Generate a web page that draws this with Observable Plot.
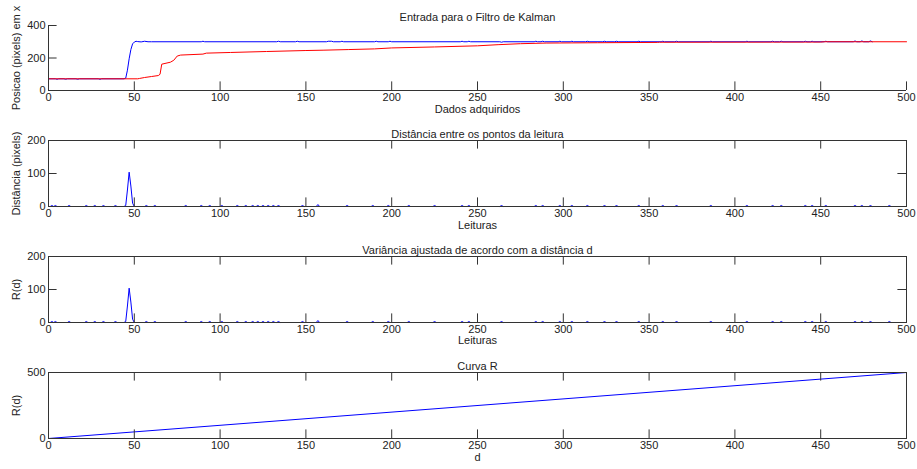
<!DOCTYPE html>
<html><head><meta charset="utf-8">
<script src="https://cdn.jsdelivr.net/npm/d3@7"></script>
<script src="https://cdn.jsdelivr.net/npm/@observablehq/plot@0.6"></script>
<style>
body{margin:0;background:#fff;}
#c svg{display:block;}
</style></head><body><div id="c"></div>
<script>
// ---------- data ----------
const xTicks = [0,50,100,150,200,250,300,350,400,450,500];
const yTicks1 = [0,200,400];
const yTicks2 = [0,100,200];
const yTicks3 = [0,100,200];
const yTicks4 = [0,500];

// Panel 1: input position (blue = measured, red = filtered)
const blueX = [0,4,5,6,9,10,11,16,17,18,29,30,31,44,45,46,47,48,49,50,51,52,54,56,58,60,89,90,91,133,134,135,144,145,146,162,163,165,166,170,171,172,190,191,192,198,199,200,240,241,242,244,245,246,263,264,265,283,284,285,287,288,289,297,298,299,304,305,306,313,314,315,323,324,325,330,331,332,343,344,345,357,358,359,365,366,367,385,386,387,406,407,408,421,422,423,426,427,428,440,441,442,444,445,446,452,453,454,469,470,471,473,474,475,478,479,480];
const blueY = [72,72,69,72,72,69,72,72,69,72,72,69,72,72,76,125,195,252,287,298,303,301,299,303,300,300,300,303,300,300,303,300,300,303,300,300,303,303,300,300,303,300,300,303,300,300,303,300,300,303,300,300,303,300,300,297,300,300,303,300,300,303,300,300,303,300,300,303,300,300,303,300,300,303,300,300,303,300,300,303,300,300,303,300,300,303,300,300,303,300,300,303,300,300,303,300,300,303,300,300,303,300,300,303,300,300,303,300,300,305,300,300,305,300,300,305,300];
const redX = [0,52,53,56,60,64,65,66,71,73,75,77,90,92,106,127,150,160,175,190,200,225,250,262,275,290,320,355,356,450,452,500];
const redY = [72,72,74,80,86,92,100,162,174,186,212,218,224,230,234,240,246,248,252,256,262,268,275,282,288,292,294,296,297,298,300,300];

// Panel 2 / 3: distance between readings (peak + small blips on a zero baseline)
const peakX = [44,45,46,47,48,49,50];
const peakY = [0,3,50,104,62,10,0];
const blipX = [2,4,12,22,27,32,39,57,62,80,89,94,101,110,115,119,122,125,128,131,134,148,157,174,189,198,210,225,241,245,264,284,288,298,305,314,324,331,344,358,366,386,407,422,427,441,445,453,470,474,479,490];
const blipY = [3,3,3,3,3,3,3,3,3,3,3,3,3,3,3,3,3,3,3,3,3,3,6,3,3,3,3,3,3,3,3,3,3,3,3,3,3,3,3,3,3,3,3,3,3,3,3,3,3,3,3,3];

// Panel 4: R curve
const curveD = [0,500];
const curveR = [0,500];

// ---------- build series ----------
function pts(xs, ys){ return xs.map((x,i)=>({x, y: ys[i]})); }
function spikeSeries(){
  const p = [{x:0,y:0}];
  const all = [];
  blipX.forEach((x,i)=>all.push([[x-1,0],[x,blipY[i]],[x+1,0]]));
  all.push(peakX.map((x,i)=>[x,peakY[i]]));
  all.sort((a,b)=>a[0][0]-b[0][0]);
  for (const g of all) for (const [x,y] of g) p.push({x,y});
  p.push({x:500,y:0});
  return p;
}
const distSeries = spikeSeries();

// ---------- layout ----------
const W = 917, ML = 48, MR = 11, TICK = 8.6;
const FONT = '"Liberation Sans", Arial, Helvetica, sans-serif';
const AX = "#333";

function panel({h, mt, mb, yDomain, yTicks, title, titleDy, xLabel, xLabelDy, yLabel, box, lines}) {
  const fh = h - mt - mb, fw = W - ML - MR;
  const marks = [];
  for (const l of lines) marks.push(Plot.line(l.data, {x:"x", y:"y", stroke:l.color, strokeWidth:1}));
  if (box) marks.push(Plot.frame({stroke: AX}));
  else {
    marks.push(Plot.ruleX([0], {stroke: AX}));
    marks.push(Plot.ruleY([yDomain[0]], {stroke: AX}));
  }
  marks.push(Plot.tickX(xTicks, {x: d=>d, insetTop: fh - TICK, stroke: AX}));
  marks.push(Plot.tickY(yTicks, {y: d=>d, insetRight: fw - TICK, stroke: AX}));
  if (box) {
    marks.push(Plot.tickX(xTicks, {x: d=>d, insetBottom: fh - TICK, stroke: AX}));
    marks.push(Plot.tickY(yTicks, {y: d=>d, insetLeft: fw - TICK, stroke: AX}));
  }
  marks.push(Plot.axisX(xTicks, {tickSize: 0, tickPadding: 3, label: null}));
  marks.push(Plot.axisY(yTicks, {tickSize: 0, tickPadding: 3, label: null}));
  marks.push(Plot.text([title], {frameAnchor: "top", dy: titleDy, text: d=>d}));
  marks.push(Plot.text([xLabel], {frameAnchor: "bottom", dy: xLabelDy, text: d=>d}));
  marks.push(Plot.text([yLabel], {frameAnchor: "left", dx: -32, rotate: -90, textAnchor: "middle", text: d=>d}));
  return Plot.plot({
    width: W, height: h, marginLeft: ML, marginRight: MR, marginTop: mt, marginBottom: mb,
    style: {fontFamily: FONT, fontSize: "11px", color: "#222", background: "#fff", overflow: "visible"},
    x: {domain: [0,500]},
    y: {domain: yDomain},
    marks
  });
}

const c = document.getElementById("c");
c.append(panel({h:118, mt:25, mb:28, yDomain:[0,400], yTicks:yTicks1,
  title:"Entrada para o Filtro de Kalman", titleDy:-12,
  xLabel:"Dados adquiridos", xLabelDy:22, yLabel:"Posicao (pixels) em x", box:false,
  lines:[{data: pts(blueX, blueY), color:"#0000ff"}, {data: pts(redX, redY), color:"#ff0000"}]}));
c.append(panel({h:116, mt:22, mb:28, yDomain:[0,200], yTicks:yTicks2,
  title:"Distância entre os pontos da leitura", titleDy:-10,
  xLabel:"Leituras", xLabelDy:22, yLabel:"Distância (pixels)", box:true,
  lines:[{data: distSeries, color:"#0000ff"}]}));
c.append(panel({h:116, mt:22, mb:28, yDomain:[0,200], yTicks:yTicks3,
  title:"Variância ajustada de acordo com a distância d", titleDy:-10,
  xLabel:"Leituras", xLabelDy:21, yLabel:"R(d)", box:true,
  lines:[{data: distSeries, color:"#0000ff"}]}));
c.append(panel({h:119, mt:22, mb:31, yDomain:[0,500], yTicks:yTicks4,
  title:"Curva R", titleDy:-10,
  xLabel:"d", xLabelDy:22, yLabel:"R(d)", box:true,
  lines:[{data: pts(curveD, curveR), color:"#0000ff"}]}));
</script>
</body></html>
